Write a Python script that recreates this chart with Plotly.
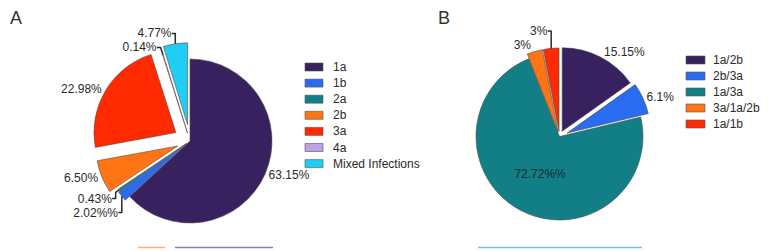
import plotly.graph_objects as go

W, H = 768, 251
OFF = 8  # page body margin in the browser

# ---- data ----
genotypes_a = ["1a", "1b", "2a", "2b", "3a", "4a", "Mixed Infections"]
values_a = [63.15, 2.02, 0.43, 6.50, 22.98, 0.14, 4.77]
labels_a = ["63.15%", "2.02%%", "0.43%", "6.50%", "22.98%", "0.14%", "4.77%"]
colors_a = ["#37215f", "#2a6cf0", "#127f86", "#ff7414", "#ff2a00", "#b9a3e3", "#1fcdf5"]
pull_a = [0, 0.07, 0.05, 0.16, 0.2, 0.1, 0.2]

mixed_b = ["1a/2b", "2b/3a", "1a/3a", "3a/1a/2b", "1a/1b"]
values_b = [15.15, 6.1, 72.72, 3, 3]
labels_b = ["15.15%", "6.1%", "72.72%%", "3%", "3%"]
colors_b = ["#37215f", "#2a6cf0", "#127f86", "#ff7414", "#ff2a00"]
pull_b = [0.07, 0.1, 0, 0.06, 0.06]

FONT = "Liberation Sans, Arial, sans-serif"


def px_x(x):
    return (x - OFF) / W


def px_y(y):
    return 1 - (y - OFF) / H


def domain(cx, cy, r, maxpull):
    h = r * (1 + maxpull)
    return dict(x=[px_x(cx - h), px_x(cx + h)], y=[px_y(cy + h), px_y(cy - h)])


fig = go.Figure()

fig.add_trace(go.Pie(
    labels=genotypes_a, values=values_a, text=labels_a,
    textinfo="text", textposition="outside",
    sort=False, direction="clockwise", rotation=0,
    pull=pull_a,
    marker=dict(colors=colors_a, line=dict(color="#5a4a4a", width=0.6)),
    textfont=dict(family=FONT, size=12, color="#2a2a2a"),
    domain=domain(190, 141, 82, max(pull_a)),
    showlegend=False, hoverinfo="label+percent",
))

fig.add_trace(go.Pie(
    labels=mixed_b, values=values_b, text=labels_b,
    textinfo="text", textposition=["outside", "outside", "inside", "outside", "outside"],
    insidetextorientation="horizontal",
    sort=False, direction="clockwise", rotation=0,
    pull=pull_b,
    marker=dict(colors=colors_b, line=dict(color="#4a4a4a", width=0.6)),
    textfont=dict(family=FONT, size=12, color="#2a2a2a"),
    insidetextfont=dict(family=FONT, size=12, color="#1a2a2a"),
    domain=domain(559.5, 136.5, 83.5, max(pull_b)),
    showlegend=False, hoverinfo="label+percent",
))

shapes = []
annotations = []


def add_legend(names, colors, x0, y0, step, sw, sh, tx):
    for i, (n, c) in enumerate(zip(names, colors)):
        yc = y0 + step * i
        shapes.append(dict(type="rect", xref="paper", yref="paper",
                           x0=px_x(x0), x1=px_x(x0 + sw),
                           y0=px_y(yc + sh / 2), y1=px_y(yc - sh / 2),
                           fillcolor=c, line=dict(color="#555555", width=0.6)))
        annotations.append(dict(x=px_x(tx - 2), y=px_y(yc), xref="paper", yref="paper",
                                text=n, showarrow=False, xanchor="left", yanchor="middle",
                                font=dict(family=FONT, size=12, color="#2a2a2a")))


add_legend(genotypes_a, colors_a, 305, 67, 16.1, 18, 8, 333)
add_legend(mixed_b, colors_b, 686, 60, 16, 19, 8, 713)

# panel letters
for letter, x in (("A", 8), ("B", 436)):
    annotations.append(dict(x=px_x(x), y=px_y(18), xref="paper", yref="paper",
                            text=letter, showarrow=False, xanchor="left", yanchor="middle",
                            font=dict(family=FONT, size=18, color="#333333")))

# faint artefact lines at the bottom
for x0, x1, c in ((138, 165, "#f6b27a"), (175, 273, "#8a7fa3"), (478, 642, "#7cc3c3")):
    shapes.append(dict(type="line", xref="paper", yref="paper",
                       x0=px_x(x0), x1=px_x(x1), y0=px_y(247.5), y1=px_y(247.5),
                       line=dict(color=c, width=1.5)))

fig.update_layout(
    width=W, height=H,
    margin=dict(l=0, r=0, t=0, b=0, autoexpand=False),
    paper_bgcolor="white", plot_bgcolor="white",
    shapes=shapes, annotations=annotations,
)

fig.write_html("out.html")
